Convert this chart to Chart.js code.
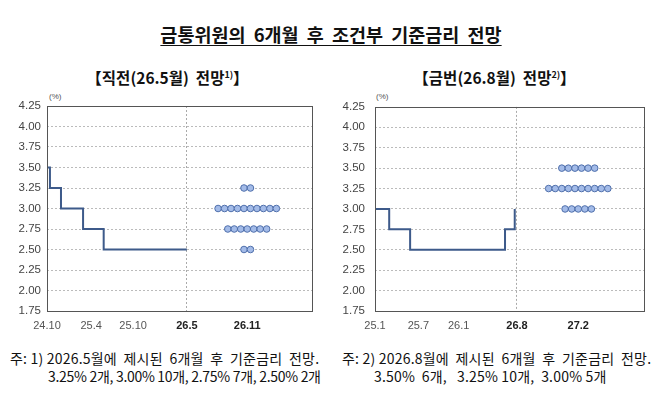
<!DOCTYPE html>
<html>
<head>
<meta charset="utf-8">
<script src="https://cdn.jsdelivr.net/npm/chart.js@4"></script>
<style>
  body { margin: 0; background: #fff; }
  #page { position: relative; width: 670px; height: 403px; overflow: hidden; font-family: "Noto Sans CJK KR", sans-serif; color: #111; }
  .title { position: absolute; top: 21px; left: 0; width: 662px; text-align: center; font-size: 18.5px; font-weight: bold; }
  .title span { text-decoration: underline; text-underline-offset: 3px; word-spacing: 4px; }
  .sub { position: absolute; top: 66px; width: 335px; text-align: center; font-size: 15.5px; font-weight: bold; white-space: pre; }
  .sub sup { font-size: 9px; vertical-align: 6px; }
  .pct { position: absolute; top: 92px; font-family: "Liberation Sans", sans-serif; font-size: 8px; color: #555; }
  .box { position: absolute; top: 90px; width: 335px; height: 243px; }
  .note { position: absolute; font-size: 14px; white-space: pre; color: #111; }
</style>
</head>
<body>
<div id="page">
  <div class="title"><span>금통위원의 6개월 후 조건부 기준금리 전망</span></div>
  <div class="sub" style="left:0">【직전(26.5월)  전망<sup>1)</sup>】</div>
  <div class="sub" style="left:327px">【금번(26.8월)  전망<sup>2)</sup>】</div>
  <div class="pct" style="left:49px">(%)</div>
  <div class="pct" style="left:376px">(%)</div>
  <div class="box" style="left:0"><canvas id="c1"></canvas></div>
  <div class="box" style="left:335px"><canvas id="c2"></canvas></div>
  <div class="note" style="left:10px;top:348px;letter-spacing:0.2px">주: 1) 2026.5월에  제시된  6개월  후  기준금리  전망.</div>
  <div class="note" style="left:48px;top:366px;letter-spacing:-0.3px">3.25% 2개, 3.00% 10개, 2.75% 7개, 2.50% 2개</div>
  <div class="note" style="left:342px;top:348px;letter-spacing:0.2px">주: 2) 2026.8월에  제시된  6개월  후  기준금리  전망.</div>
  <div class="note" style="left:374px;top:366px;letter-spacing:0.2px">3.50%  6개,   3.25% 10개,  3.00% 5개</div>
</div>
<script>
// x 단위: 각 차트 시작월부터의 개월 수
const leftTickMonths = [0, 6, 11.7, 19, 27.2];
const leftTickLabels = ['24.10', '25.4', '25.10', '26.5', '26.11'];
const rightTickMonths = [0, 5.8, 11.2, 19, 27.2];
const rightTickLabels = ['25.1', '25.7', '26.1', '26.8', '27.2'];

// 기준금리 실적 (변경 시점, 금리)
const leftPathMonths = [0, 0.4, 1.9, 4.9, 7.7, 19];
const leftPathRates = [3.50, 3.25, 3.00, 2.75, 2.50, 2.50];
const rightPathMonths = [0, 1.9, 4.7, 17.4, 18.7];
const rightPathRates = [3.00, 2.75, 2.50, 2.75, 3.00];

// 6개월 후 전망 점도표
const leftDotRates = [3.25, 3.00, 2.75, 2.50];
const leftDotCounts = [2, 10, 7, 2];
const rightDotRates = [3.50, 3.25, 3.00];
const rightDotCounts = [6, 10, 5];

const yTicksMin = 1.75, yTicksMax = 4.25, yStep = 0.25;
const cutoffMonth = 19;
const forecastMonth = 27.2;
const xMax = 36;
const dotGap = 0.88;

function dots(rates, counts) {
  const pts = [];
  rates.forEach((r, k) => {
    const n = counts[k];
    for (let i = 0; i < n; i++) {
      pts.push({ x: forecastMonth + (i - (n - 1) / 2) * dotGap, y: r });
    }
  });
  return pts;
}

const isFuture = c => !!(c.tick && c.tick.value >= cutoffMonth);

const frame = {
  id: 'frame',
  afterDraw(chart) {
    const a = chart.chartArea, ctx = chart.ctx;
    ctx.save();
    ctx.strokeStyle = '#555';
    ctx.lineWidth = 1;
    ctx.setLineDash([]);
    ctx.strokeRect(Math.round(a.left) + 0.5, Math.round(a.top) + 0.5, Math.round(a.right - a.left), Math.round(a.bottom - a.top));
    ctx.restore();
  }
};

function makeChart(id, months, rates, dotRates, dotCounts, tickMonths, tickLabels, pad, yPad) {
  new Chart(document.getElementById(id), {
    type: 'scatter',
    data: {
      datasets: [
        {
          type: 'line',
          data: months.map((m, i) => ({ x: m, y: rates[i] })),
          stepped: 'before',
          borderColor: '#3d5a8a',
          borderWidth: 2,
          pointRadius: 0,
          fill: false
        },
        {
          data: dots(dotRates, dotCounts),
          pointRadius: 3.3,
          pointBackgroundColor: '#a3bbe8',
          pointBorderColor: '#4f6fab',
          pointBorderWidth: 1
        }
      ]
    },
    options: {
      animation: false,
      responsive: true,
      maintainAspectRatio: false,
      layout: { padding: pad },
      plugins: { legend: { display: false }, tooltip: { enabled: false } },
      scales: {
        x: {
          type: 'linear',
          min: 0,
          max: xMax,
          afterBuildTicks: s => { s.ticks = tickMonths.map(v => ({ value: v })); },
          afterFit: s => { s.height = 22; },
          grid: {
            drawTicks: false,
            color: c => (c.tick && c.tick.value === cutoffMonth) ? '#aaa' : 'rgba(0,0,0,0)'
          },
          border: { display: false, dash: [2, 2] },
          ticks: {
            padding: 8,
            maxRotation: 0,
            autoSkip: false,
            callback: (v, i) => tickLabels[i],
            color: c => isFuture(c) ? '#222' : '#555',
            font: c => ({ family: 'Liberation Sans', size: 11, weight: isFuture(c) ? 'bold' : 'normal' })
          }
        },
        y: {
          min: yTicksMin,
          max: yTicksMax,
          afterFit: s => { s.width = 40; },
          grid: {
            drawTicks: false,
            color: c => (c.tick && (c.tick.value === yTicksMin || c.tick.value === yTicksMax)) ? 'rgba(0,0,0,0)' : '#bbb'
          },
          border: { display: false, dash: [2, 2] },
          ticks: {
            stepSize: yStep,
            padding: yPad,
            color: '#444',
            font: { family: 'Liberation Sans', size: 11.5 },
            callback: v => v.toFixed(2)
          }
        }
      }
    },
    plugins: [frame]
  });
}

makeChart('c1', leftPathMonths, leftPathRates, leftDotRates, leftDotCounts,
  leftTickMonths, leftTickLabels, { left: 7, right: 23, top: 16, bottom: 0 }, 6);
makeChart('c2', rightPathMonths, rightPathRates, rightDotRates, rightDotCounts,
  rightTickMonths, rightTickLabels, { left: 0, right: 26, top: 16, bottom: 0 }, 10);
</script>
</body>
</html>
